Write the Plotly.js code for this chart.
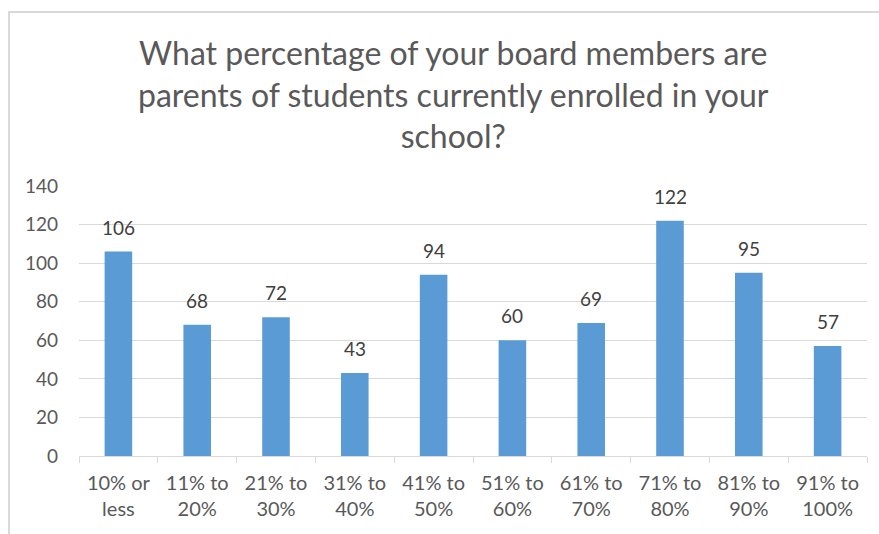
<!DOCTYPE html>
<html>
<head>
<meta charset="utf-8">
<script src="https://cdn.plot.ly/plotly-3.0.1.min.js"></script>
<style>
  html, body { margin: 0; padding: 0; background: #fff; }
  #wrap { position: relative; width: 879px; height: 534px; overflow: hidden; }
  #frame { position: absolute; left: 8px; top: 11px; width: 900px; height: 600px;
           border-left: 2px solid #d9d9d9; border-top: 2px solid #d9d9d9; pointer-events: none; }
  #chart { position: absolute; left: 0; top: 0; width: 879px; height: 534px; }
</style>
</head>
<body>
<div id="wrap">
  <div id="chart"></div>
  <div id="frame"></div>
</div>
<script>
const categories = ["10% or<br>less", "11% to<br>20%", "21% to<br>30%", "31% to<br>40%", "41% to<br>50%",
                    "51% to<br>60%", "61% to<br>70%", "71% to<br>80%", "81% to<br>90%", "91% to<br>100%"];
const counts = [106, 68, 72, 43, 94, 60, 69, 122, 95, 57];
const yTicks = [0, 20, 40, 60, 80, 100, 120, 140];
const titleText = "What percentage of your board members are<br>parents of students currently enrolled in your<br>school?";

const font = "Lato, 'Open Sans', sans-serif";

const trace = {
  type: "bar",
  x: categories,
  y: counts,
  marker: { color: "#5B9BD5" },
  hoverinfo: "x+y"
};

const annotations = categories.map((c, i) => ({
  x: c, y: counts[i], xref: "x", yref: "y",
  text: String(counts[i]), showarrow: false,
  yanchor: "bottom", yshift: 11,
  font: { family: font, size: 19, color: "#404040" }
}));

annotations.push({
  text: titleText, showarrow: false,
  xref: "paper", yref: "paper",
  x: 0.475, xanchor: "center",
  y: 1.575, yanchor: "top",
  align: "center",
  font: { family: font, size: 32, color: "#595959" }
});

const layout = {
  width: 879, height: 534,
  margin: { l: 79, r: 12, t: 186, b: 78 },
  paper_bgcolor: "#fff", plot_bgcolor: "#fff",
  showlegend: false,
  bargap: 0.65,
  xaxis: {
    type: "category",
    showline: true, linecolor: "#d9d9d9", linewidth: 1,
    ticks: "outside", tickson: "boundaries", ticklen: 6, tickcolor: "#d9d9d9",
    ticklabelstandoff: 9,
    tickfont: { family: font, size: 20, color: "#595959" },
    showgrid: false, zeroline: false
  },
  yaxis: {
    range: [0, 140], tickvals: yTicks,
    showgrid: true, gridcolor: "#d9d9d9", gridwidth: 1,
    zeroline: false, showline: false, ticks: "",
    ticklabelstandoff: 20,
    tickfont: { family: font, size: 19, color: "#595959" }
  },
  annotations: annotations
};

Plotly.newPlot("chart", [trace], layout, { displayModeBar: false, staticPlot: true });
</script>
</body>
</html>
